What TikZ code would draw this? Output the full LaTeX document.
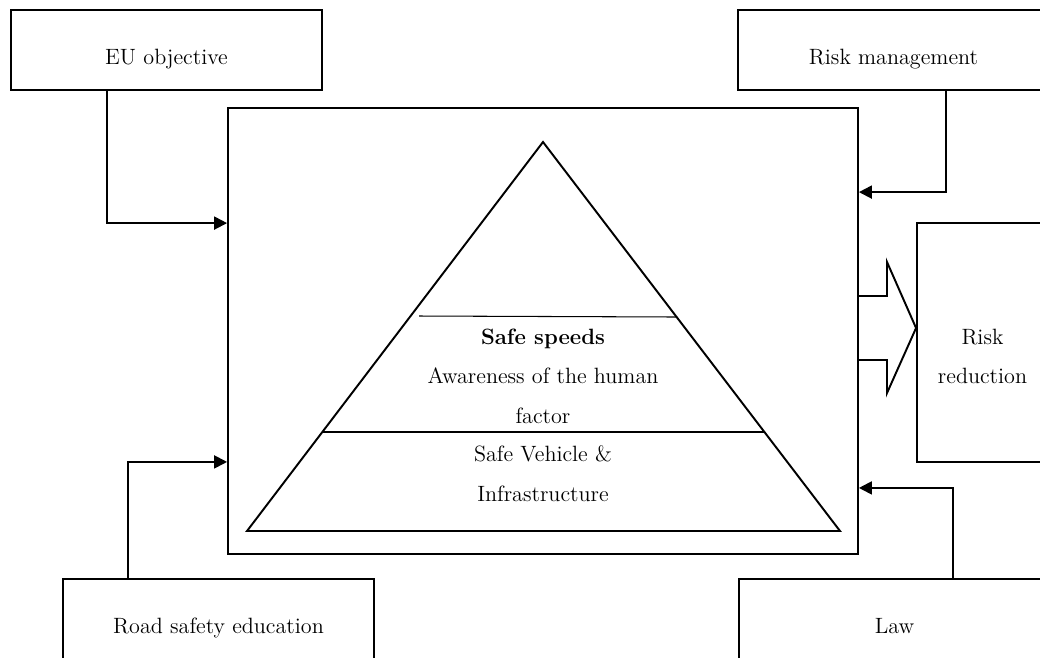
\documentclass[tikz,border=0pt]{standalone}
\usepackage{tikz}
\usetikzlibrary{arrows.meta,calc}

\begin{document}
\begin{tikzpicture}[
  x=0.02cm, y=-0.02cm,
  font=\fontsize{12.6}{22.4}\selectfont,
  line width=1.1pt,
  sidebox/.style={draw, minimum width=6.22cm, minimum height=1.6cm,
                  inner sep=0pt, text height=17pt, text depth=0pt},
  mainbox/.style={draw, minimum width=12.6cm, minimum height=8.92cm,
                  inner sep=0pt},
  outbox/.style={draw, minimum width=2.62cm, minimum height=4.78cm,
                 inner sep=0pt, align=center},
  pyrtext/.style={inner sep=0pt, align=center, anchor=north},
  layer/.style={line width=0.6pt},
  arr/.style={-{Triangle[length=0.26cm, width=0.26cm]}, line width=1.1pt},
  bigarrow/.style={line width=1.1pt, line join=miter}
]
\useasboundingbox (0,0) rectangle (1040,657);
\clip (0,0) rectangle (1040,657);
%--- Central frame -----------------------------------------------------------
\node[mainbox] (core) at (543,331) {};
%--- Input boxes -------------------------------------------------------------
\node[sidebox] (eu)   at (166.5,50)  {EU objective};
\node[sidebox] (rm)   at (893.5,50)  {Risk management};
\node[sidebox] (road) at (218.5,619) {Road safety education};
\node[sidebox] (law)  at (894.5,619) {Law};
%--- Output box --------------------------------------------------------------
\node[outbox] (rr) at (982.5,342.5) {\rule{0pt}{24.5pt}Risk\\reduction};
%--- Pyramid -----------------------------------------------------------------
\coordinate (apex)  at (543,142);
\coordinate (baseL) at (247,531);
\coordinate (baseR) at (840,531);
\draw (apex) -- (baseR) -- (baseL) -- cycle;
\draw[layer] (419,316) -- (677,317);
\draw[layer] (322,432) -- (764,432);
\node[pyrtext] (speeds) at (543,328) {%
  \textbf{Safe speeds}\\Awareness of the human\\factor%
};
\node[pyrtext] (vehicle) at (543,445) {%
  Safe Vehicle \&\\Infrastructure%
};
%--- Arrows: inputs -> central frame -----------------------------------------
\draw[arr] ($(eu.south west)+(97,0)$)    |- ($(core.north west)+(0,116)$);
\draw[arr] ($(rm.south west)+(209,0)$)   |- ($(core.north east)+(0,85)$);
\draw[arr] ($(road.north west)+(66,0)$)  |- ($(core.south west)+(0,-93)$);
\draw[arr] ($(law.north west)+(215,0)$)  |- ($(core.south east)+(0,-67)$);
%--- Block arrow: central frame -> risk reduction ----------------------------
\draw[bigarrow] ($(core.east)+(0,-35)$) -- (887,296) -- (887,262)
  -- (rr.west |- 0,328) -- (887,393) -- (887,360) -- ($(core.east)+(0,29)$);
\end{tikzpicture}
\end{document}
